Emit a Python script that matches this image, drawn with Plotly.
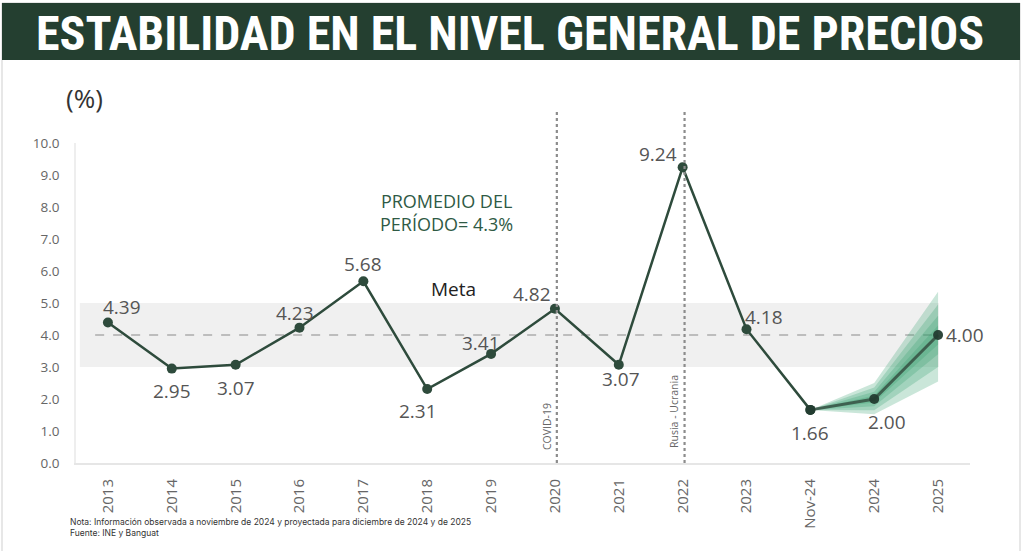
import plotly.graph_objects as go

# ---- data ----
categories = ["2013", "2014", "2015", "2016", "2017", "2018", "2019", "2020",
              "2021", "2022", "2023", "Nov-24", "2024", "2025"]
inflation = [4.39, 2.95, 3.07, 4.23, 5.68, 2.31, 3.41, 4.82,
             3.07, 9.24, 4.18, 1.66, 2.00, 4.00]
value_labels = ["4.39", "2.95", "3.07", "4.23", "5.68", "2.31", "3.41", "4.82",
                "3.07", "9.24", "4.18", "1.66", "2.00", "4.00"]

fan_x = ["Nov-24", "2024", "2025"]
fan_upper = [
    [1.66, 2.50, 5.35],
    [1.66, 2.36, 4.95],
    [1.66, 2.23, 4.60],
    [1.66, 2.11, 4.30],
]
fan_lower = [
    [1.66, 1.52, 2.55],
    [1.66, 1.65, 3.00],
    [1.66, 1.77, 3.40],
    [1.66, 1.89, 3.70],
]

meta_low, meta_high, meta_center = 3.0, 5.0, 4.0
y_ticks = [0, 1, 2, 3, 4, 5, 6, 7, 8, 9, 10]
y_tick_text = ["0.0", "1.0", "2.0", "3.0", "4.0", "5.0", "6.0", "7.0", "8.0", "9.0", "10.0"]

title_text = "ESTABILIDAD EN EL NIVEL GENERAL DE PRECIOS"
note_text = "Nota: Información observada a noviembre de 2024 y proyectada para diciembre de 2024 y de 2025"
source_text = "Fuente: INE y Banguat"

# ---- style ----
W, H = 1024, 551
L, R, T, B = 76, 54, 143, 88
PW, PH = W - L - R, H - T - B
LINE = "#2E4B3C"
LABEL_FONT = "Open Sans"
label_offsets = [(14, 16), (0, -22), (0, -23), (-5, 15), (0, 17), (-9, -22), (-10, 11),
                 (-23, 15), (2, -14), (-25, 13), (17, 12), (0, -23), (13, -23), (27, 0)]


def px(xpix):
    return (xpix - L) / PW


def py(ypix):
    return (H - B - ypix) / PH


fig = go.Figure()

# fan chart
for up, lo in zip(fan_upper, fan_lower):
    fig.add_trace(go.Scatter(
        x=fan_x + fan_x[::-1], y=up + lo[::-1], fill="toself",
        fillcolor="rgba(50,160,110,0.26)", line=dict(width=0),
        mode="lines", hoverinfo="skip", showlegend=False))

n_obs = 12
fig.add_trace(go.Scatter(
    x=categories[:n_obs], y=inflation[:n_obs], mode="lines+markers",
    line=dict(color=LINE, width=2.5), marker=dict(color=LINE, size=10),
    showlegend=False))
fig.add_trace(go.Scatter(
    x=categories[n_obs - 1:], y=inflation[n_obs - 1:], mode="lines+markers",
    line=dict(color="rgba(45,65,55,0.75)", width=3),
    marker=dict(color="rgba(35,60,48,0.95)", size=10),
    showlegend=False))

shapes = []
# frame and banner
shapes.append(dict(type="rect", xref="paper", yref="paper",
                   x0=px(2), x1=px(1020), y0=py(3), y1=py(560),
                   line=dict(color="#CFCFCF", width=1), fillcolor="rgba(0,0,0,0)", layer="below"))
shapes.append(dict(type="rect", xref="paper", yref="paper",
                   x0=px(2), x1=px(1020), y0=py(3), y1=py(60),
                   line=dict(width=0), fillcolor="#243F30", layer="below"))
# meta band
shapes.append(dict(type="rect", xref="x", yref="y", x0=-0.44, x1=13.01,
                   y0=meta_low, y1=meta_high, line=dict(width=0),
                   fillcolor="#F0F0F0", layer="below"))
shapes.append(dict(type="line", xref="x", yref="y", x0=-0.2, x1=12.98,
                   y0=meta_center, y1=meta_center,
                   line=dict(color="#8A8A8A", width=1.2, dash="dash"), layer="below"))
# event lines
for idx in [7, 9]:
    shapes.append(dict(type="line", xref="x", yref="paper", x0=idx + 0.03, x1=idx + 0.03,
                       y0=0, y1=py(110), line=dict(color="#8C8C8C", width=2.2, dash="dot"),
                       layer="above"))

annotations = []
annotations.append(dict(xref="paper", yref="paper", x=px(510), y=py(33), text=title_text,
                        showarrow=False, xanchor="center", yanchor="middle",
                        font=dict(family="Liberation Sans Narrow, Roboto Condensed, Arial Narrow, sans-serif",
                                  size=48, color="white", weight="bold")))
annotations.append(dict(xref="paper", yref="paper", x=px(84), y=py(98), text="(%)",
                        showarrow=False, xanchor="center", yanchor="middle",
                        font=dict(family=LABEL_FONT, size=26, color="#333333")))
annotations.append(dict(xref="paper", yref="paper", x=px(446), y=py(212),
                        text="PROMEDIO DEL<br>PERÍODO= 4.3%", showarrow=False,
                        xanchor="center", yanchor="middle", align="center",
                        font=dict(family=LABEL_FONT, size=18, color="#2F5A45")))
annotations.append(dict(xref="paper", yref="paper", x=px(453), y=py(289), text="Meta",
                        showarrow=False, xanchor="center", yanchor="middle",
                        font=dict(family=LABEL_FONT, size=19, color="#222222")))
annotations.append(dict(xref="paper", yref="paper", x=px(547), y=py(427), text="COVID-19",
                        showarrow=False, textangle=-90, xanchor="center", yanchor="middle",
                        font=dict(family=LABEL_FONT, size=10.5, color="#666666")))
annotations.append(dict(xref="paper", yref="paper", x=px(674), y=py(412), text="Rusia - Ucrania",
                        showarrow=False, textangle=-90, xanchor="center", yanchor="middle",
                        font=dict(family=LABEL_FONT, size=10.5, color="#666666")))
annotations.append(dict(xref="paper", yref="paper", x=px(68), y=py(527),
                        text=note_text + "<br>" + source_text, showarrow=False,
                        xanchor="left", yanchor="middle", align="left",
                        font=dict(family="Inter", size=8.5, color="#333333")))

for i, (val, lab, (dx, dy)) in enumerate(zip(inflation, value_labels, label_offsets)):
    annotations.append(dict(xref="x", yref="y", x=i, y=val, text=lab, showarrow=False,
                            xshift=dx, yshift=dy, xanchor="center", yanchor="middle",
                            font=dict(family=LABEL_FONT, size=19, color="#555555")))

fig.update_layout(
    width=W, height=H, margin=dict(l=L, r=R, t=T, b=B),
    paper_bgcolor="white", plot_bgcolor="white",
    shapes=shapes, annotations=annotations, showlegend=False,
    xaxis=dict(type="category", categoryorder="array", categoryarray=categories,
               range=[-0.5, 13.5], showgrid=False, zeroline=False,
               showline=True, linecolor="#E6E6E6", linewidth=2,
               tickangle=-90, ticks="", ticklabelstandoff=8,
               tickfont=dict(family=LABEL_FONT, size=15, color="#666666")),
    yaxis=dict(range=[0, 10], tickvals=y_ticks, ticktext=y_tick_text,
               showgrid=False, zeroline=False, showline=True, linecolor="#EEEEEE",
               linewidth=1.5, ticks="", ticklabelstandoff=12,
               tickfont=dict(family=LABEL_FONT, size=13.5, color="#666666")),
)

fig.write_html("out.html", config={"displayModeBar": False},
               post_script="document.body.style.margin='0';document.body.style.overflow='hidden';")
